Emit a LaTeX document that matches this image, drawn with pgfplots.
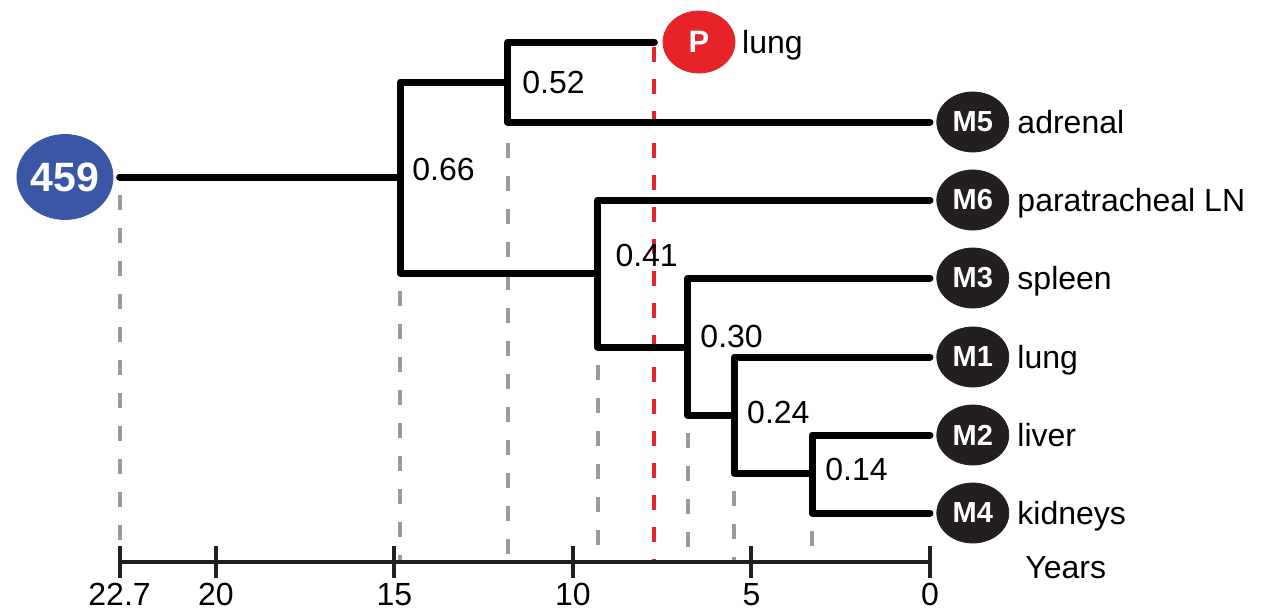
\documentclass[border=0pt]{standalone}
\usepackage{pgfplots}
\pgfplotsset{compat=1.18}
\usepackage{fontspec}
\setmainfont{Liberation Sans}
\definecolor{mblk}{HTML}{231F20}
\definecolor{rootblue}{HTML}{3A57A6}
\definecolor{pred}{HTML}{E52329}
\definecolor{dashgray}{HTML}{9B9B9B}
\definecolor{axdark}{HTML}{231F20}
\tikzset{
  tree/.style={black, line width=3.5pt, line join=round, line cap=round, mark=none},
  gdash/.style={dashgray, line width=2pt, dash pattern=on 7.5pt off 9pt, mark=none},
  lab/.style={font=\fontsize{16}{19}\selectfont, inner sep=0pt},
}
\begin{document}
\begin{tikzpicture}
\begin{axis}[
  width=641pt, height=305.5pt, scale only axis,
  xmin=-9.86, xmax=26.05, x dir=reverse,
  ymin=0, ymax=611, y dir=reverse,
  axis lines=none, clip=false,
]
\path (rel axis cs:0,0) rectangle (rel axis cs:1,1);

% dashed drop lines
\addplot[gdash] coordinates {(22.7,195) (22.7,560)};
\addplot[gdash] coordinates {(14.84,291) (14.84,560)};
\addplot[gdash] coordinates {(11.83,143) (11.83,560)};
\addplot[gdash] coordinates {(9.31,365) (9.31,560)};
\addplot[gdash] coordinates {(6.79,433) (6.79,560)};
\addplot[gdash] coordinates {(5.48,491) (5.48,560)};
\addplot[gdash] coordinates {(3.30,531) (3.30,560)};
\addplot[pred, line width=2pt, dash pattern=on 7.5pt off 8.5pt, mark=none] coordinates {(7.72,47) (7.72,560)};

% tree
\addplot[tree] coordinates {(22.7,177) (14.84,177)};
\addplot[tree] coordinates {(11.83,82) (14.84,82) (14.84,273) (9.31,273)};
\addplot[tree] coordinates {(7.72,42) (11.83,42) (11.83,122) (0,122)};
\addplot[tree] coordinates {(0,200) (9.31,200) (9.31,347) (6.79,347)};
\addplot[tree] coordinates {(0,278) (6.79,278) (6.79,415) (5.48,415)};
\addplot[tree] coordinates {(0,357) (5.48,357) (5.48,473) (3.30,473)};
\addplot[tree] coordinates {(0,435) (3.30,435) (3.30,513) (0,513)};

% time axis
\addplot[axdark, line width=2pt, mark=none] coordinates {(22.7,562) (0,562)};
\addplot[axdark, only marks, mark=|, mark size=8pt, mark options={line width=2pt}]
  coordinates {(22.7,562) (20,562) (15,562) (10,562) (5,562) (0,562)};
\node[lab, anchor=base] at (axis cs:22.7,605) {22.7};
\node[lab, anchor=base] at (axis cs:20,605) {20};
\node[lab, anchor=base] at (axis cs:15,605) {15};
\node[lab, anchor=base] at (axis cs:10,605) {10};
\node[lab, anchor=base] at (axis cs:5,605) {5};
\node[lab, anchor=base] at (axis cs:0,605) {0};
\node[lab, anchor=base west] at (axis cs:-2.66,578) {Years};

% node markers with their texts
\addplot[only marks, mark=*, mark size=21.25pt, color=rootblue,
  mark options={xscale=1.13, fill=rootblue, draw=rootblue},
  nodes near coords, point meta=explicit symbolic,
  nodes near coords style={anchor=center, text=white, inner sep=0pt, font=\bfseries\fontsize{20.5}{24}\selectfont}]
  table[meta=t] {
x y t
24.23 177 459
};
\addplot[only marks, mark=*, mark size=15.5pt, color=pred,
  mark options={xscale=1.16, fill=pred, draw=pred},
  nodes near coords, point meta=explicit symbolic,
  nodes near coords style={anchor=center, text=white, inner sep=0pt, font=\bfseries\fontsize{15.5}{18}\selectfont}]
  table[meta=t] {
x y t
6.47 42 P
};
\addplot[only marks, mark=*, mark size=15pt, color=mblk,
  mark options={xscale=1.2, fill=mblk, draw=mblk},
  nodes near coords, point meta=explicit symbolic,
  nodes near coords style={anchor=center, text=white, inner sep=0pt, font=\bfseries\fontsize{14.5}{17}\selectfont}]
  table[meta=t] {
x y t
-1.20 122 M5
-1.20 200 M6
-1.20 278 M3
-1.20 357 M1
-1.20 435 M2
-1.20 513 M4
};

% leaf labels
\node[lab, anchor=base west] at (axis cs:5.27,53) {lung};
\node[lab, anchor=base west] at (axis cs:-2.44,133.5) {adrenal};
\node[lab, anchor=base west] at (axis cs:-2.44,211.5) {paratracheal LN};
\node[lab, anchor=base west] at (axis cs:-2.44,289.5) {spleen};
\node[lab, anchor=base west] at (axis cs:-2.44,368.5) {lung};
\node[lab, anchor=base west] at (axis cs:-2.44,446.5) {liver};
\node[lab, anchor=base west] at (axis cs:-2.44,524.5) {kidneys};

% branch support labels
\node[lab, anchor=base west] at (axis cs:14.51,180) {0.66};
\node[lab, anchor=base west] at (axis cs:11.43,93) {0.52};
\node[lab, anchor=base west] at (axis cs:8.82,266) {0.41};
\node[lab, anchor=base west] at (axis cs:6.44,347) {0.30};
\node[lab, anchor=base west] at (axis cs:5.13,423) {0.24};
\node[lab, anchor=base west] at (axis cs:2.94,480) {0.14};
\end{axis}
\end{tikzpicture}
\end{document}
